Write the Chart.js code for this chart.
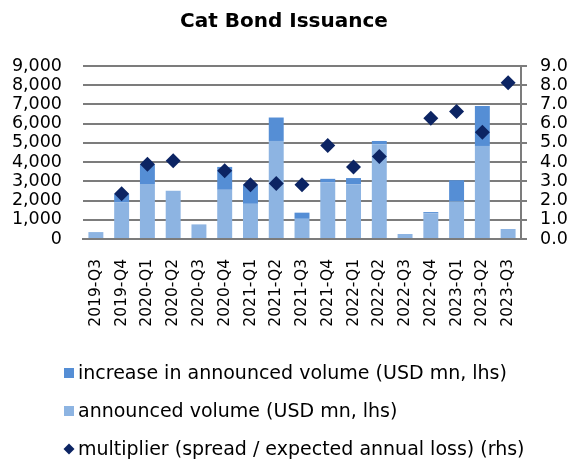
<!DOCTYPE html>
<html>
<head>
<meta charset="utf-8">
<script src="https://cdn.jsdelivr.net/npm/chart.js@4"></script>
<style>
  html, body { margin: 0; padding: 0; background: #fff; }
  #wrap { width: 568px; height: 462px; }
</style>
</head>
<body>
<div id="wrap"><canvas id="bondChart" width="568" height="462"></canvas></div>
<script>
const quarters = ['2019-Q3', '2019-Q4', '2020-Q1', '2020-Q2', '2020-Q3', '2020-Q4', '2021-Q1', '2021-Q2', '2021-Q3',
    '2021-Q4', '2022-Q1', '2022-Q2', '2022-Q3', '2022-Q4', '2023-Q1', '2023-Q2', '2023-Q3'];
const announced = [360, 1900, 2860, 2510, 760, 2560, 1830, 5100, 1050, 2940, 2850, 4930, 260, 1330, 1950, 4840, 520];
const increase = [0, 440, 1030, 0, 0, 1190, 990, 1220, 320, 190, 320, 170, 0, 70, 1110, 2080, 0];
const multiplier = [null, 2.35, 3.89, 4.07, null, 3.55, 2.82, 2.89, 2.82, 4.86, 3.74, 4.29, null, 6.28, 6.63, 5.55, 8.13];
const lhsTicks = ['0', '1,000', '2,000', '3,000', '4,000', '5,000', '6,000', '7,000', '8,000', '9,000'];
const rhsTicks = ['0.0', '1.0', '2.0', '3.0', '4.0', '5.0', '6.0', '7.0', '8.0', '9.0'];

const FONT = 'DejaVu Sans';
const gridGrey = '#7c7c7c';

// legend drawn by hand so the rows sit left aligned like the original
const legendPlugin = {
    id: 'stackedLegend',
    afterDraw(chart) {
        const ctx = chart.ctx;
        const ds = chart.data.datasets;
        const rows = [ds[1], ds[0], ds[2]];
        ctx.save();
        ctx.font = '19px "' + FONT + '"';
        ctx.textBaseline = 'middle';
        rows.forEach((d, i) => {
            const y = 373 + i * 38;
            ctx.fillStyle = d.backgroundColor;
            if (d.type === 'line') {
                ctx.beginPath();
                ctx.moveTo(69, y - 5.5);
                ctx.lineTo(74.5, y);
                ctx.lineTo(69, y + 5.5);
                ctx.lineTo(63.5, y);
                ctx.closePath();
                ctx.fill();
            } else {
                ctx.fillRect(64, y - 5, 10, 10);
            }
            ctx.fillStyle = '#000';
            ctx.fillText(d.label, 78, y + 1);
        });
        ctx.restore();
    }
};

const ctx = document.getElementById('bondChart').getContext('2d');
new Chart(ctx, {
    type: 'bar',
    data: {
        labels: quarters,
        datasets: [
            {
                type: 'bar',
                label: 'announced volume (USD mn, lhs)',
                data: announced,
                backgroundColor: '#8db4e2',
                borderWidth: 0,
                yAxisID: 'y',
                order: 2
            },
            {
                type: 'bar',
                label: 'increase in announced volume (USD mn, lhs)',
                data: increase,
                backgroundColor: '#558ed5',
                borderWidth: 0,
                yAxisID: 'y',
                order: 2
            },
            {
                type: 'line',
                label: 'multiplier (spread / expected annual loss) (rhs)',
                data: multiplier,
                showLine: false,
                pointStyle: 'rectRot',
                pointRadius: 7.5,
                pointHoverRadius: 7.5,
                backgroundColor: '#0c2463',
                borderColor: '#0c2463',
                pointBorderWidth: 0,
                yAxisID: 'y1',
                order: 1
            }
        ]
    },
    options: {
        responsive: false,
        animation: false,
        layout: { padding: { top: 0, left: 0, right: 0, bottom: 112 } },
        datasets: {
            bar: { barPercentage: 0.58, categoryPercentage: 1 }
        },
        scales: {
            x: {
                stacked: true,
                grid: { display: false },
                border: { display: true, color: gridGrey, width: 2 },
                ticks: {
                    color: '#000',
                    font: { family: FONT, size: 15.5 },
                    minRotation: 90,
                    maxRotation: 90,
                    autoSkip: false,
                    padding: 12
                },
                afterFit: (scale) => { scale.height = 111; }
            },
            y: {
                stacked: true,
                position: 'left',
                min: 0,
                max: 9000,
                grid: { color: gridGrey, lineWidth: 2, drawTicks: false },
                border: { display: false },
                ticks: {
                    stepSize: 1000,
                    color: '#000',
                    font: { family: FONT, size: 17.5 },
                    padding: 21,
                    autoSkip: false,
                    callback: (v, i) => lhsTicks[i]
                },
                afterFit: (scale) => { scale.width = 83; }
            },
            y1: {
                position: 'right',
                min: 0,
                max: 9,
                grid: { drawOnChartArea: false, color: gridGrey, lineWidth: 2, tickLength: 6 },
                border: { display: true, color: gridGrey, width: 2 },
                ticks: {
                    stepSize: 1,
                    color: '#000',
                    font: { family: FONT, size: 17.5 },
                    padding: 13,
                    autoSkip: false,
                    callback: (v, i) => rhsTicks[i]
                },
                afterFit: (scale) => { scale.width = 47; }
            }
        },
        plugins: {
            legend: { display: false },
            tooltip: { enabled: false },
            title: {
                display: true,
                text: 'Cat Bond Issuance',
                color: '#000',
                font: { family: FONT, size: 20, weight: 'bold', lineHeight: 1.2 },
                padding: { top: 10, bottom: 32 }
            }
        }
    },
    plugins: [legendPlugin]
});
</script>
</body>
</html>
